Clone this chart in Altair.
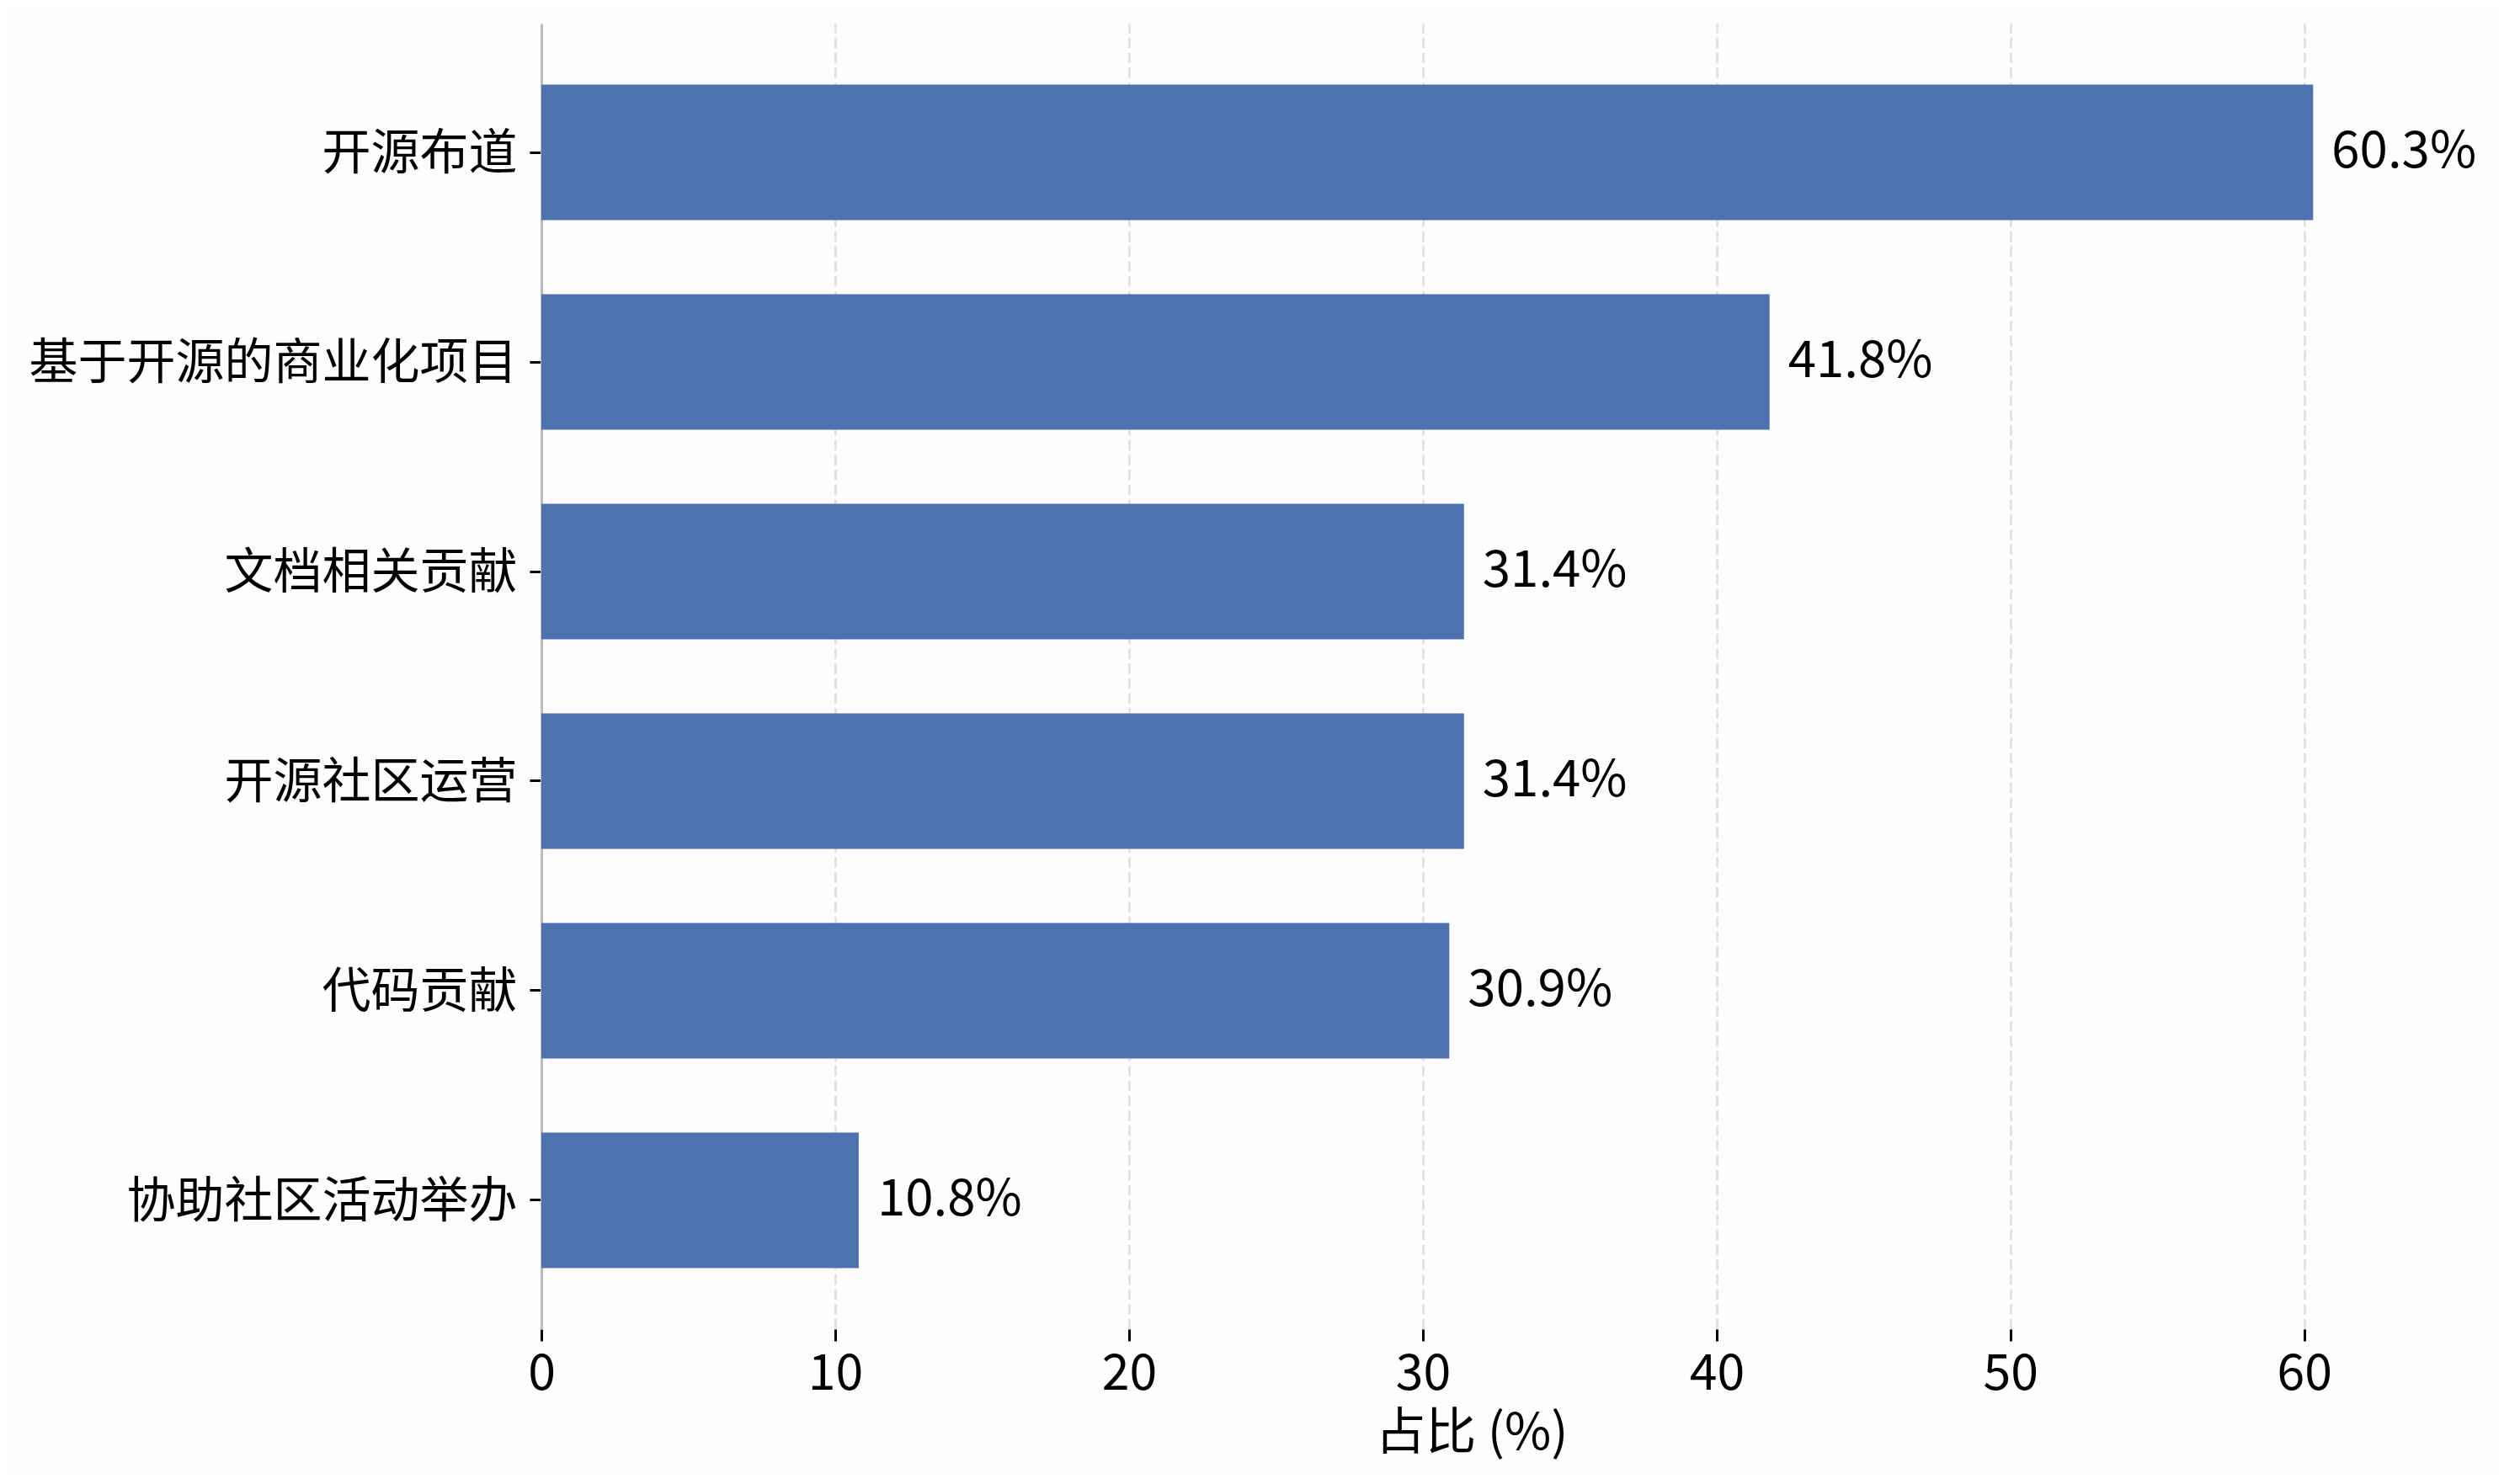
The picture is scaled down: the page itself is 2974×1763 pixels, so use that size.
import altair as alt
import pandas as pd

categories = ["开源布道", "基于开源的商业化项目", "文档相关贡献", "开源社区运营", "代码贡献", "协助社区活动举办"]
values = [60.3, 41.8, 31.4, 31.4, 30.9, 10.8]
labels = ["60.3%", "41.8%", "31.4%", "31.4%", "30.9%", "10.8%"]
x_ticks = [0, 10, 20, 30, 40, 50, 60]

df = pd.DataFrame({"cat": categories, "val": values, "lab": labels})

FONT = "Noto Sans CJK SC"

x_enc = alt.X(
    "val:Q",
    scale=alt.Scale(domain=[0, 63.3], nice=False, zero=True),
    axis=alt.Axis(
        title="占比 (%)",
        values=x_ticks,
        format="d",
        domain=False,
        grid=True,
        gridDash=[12.5, 5.2],
        gridColor="#e3e3e3",
        gridWidth=3,
        ticks=True,
        tickSize=14,
        tickWidth=3,
        tickColor="#000000",
        labelFont=FONT,
        labelFontSize=59,
        labelColor="#000000",
        labelPadding=10,
        labelFlush=False,
        labelOverlap=False,
        titleFont=FONT,
        titleFontSize=60,
        titleFontWeight="normal",
        titleColor="#000000",
        titlePadding=12,
    ),
)

y_enc = alt.Y(
    "cat:N",
    sort=categories,
    scale=alt.Scale(paddingInner=0.353, paddingOuter=0.291),
    axis=alt.Axis(
        title=None,
        domain=True,
        domainColor="#bdbdbd",
        domainWidth=3,
        grid=False,
        ticks=True,
        tickSize=14,
        tickWidth=3,
        tickColor="#000000",
        labelFont=FONT,
        labelFontSize=58,
        labelColor="#000000",
        labelPadding=15,
        labelLimit=0,
        labelOffset=3,
    ),
)

bars = alt.Chart(df).mark_bar(color="#4c72b0").encode(x=x_enc, y=y_enc)

text = alt.Chart(df).mark_text(
    align="left", baseline="middle", dx=22, font=FONT, fontSize=60, color="#000000"
).encode(x="val:Q", y=alt.Y("cat:N", sort=categories), text="lab:N")

chart = (
    alt.layer(bars, text)
    .properties(
        width=2209,
        height=1551,
        background="#fdfdfd",
        autosize=alt.AutoSizeParams(type="none"),
        padding={"left": 635, "top": 20, "right": 114, "bottom": 176},
    )
    .configure_view(stroke=None)
)

chart.save("out.html", embed_options={"renderer": "svg", "actions": False})
